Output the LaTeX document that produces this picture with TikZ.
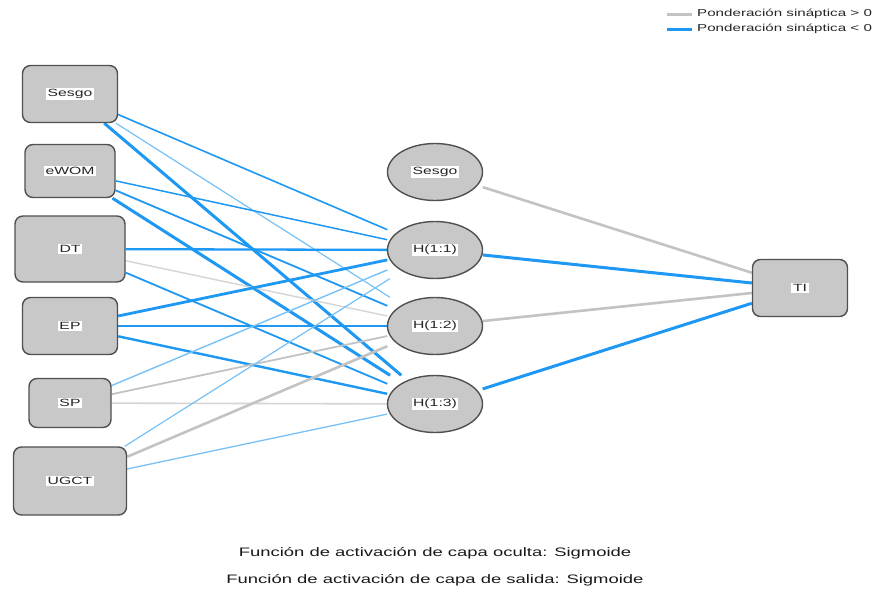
\documentclass[tikz,border=0pt]{standalone}
\usepackage{fontspec}
\setmainfont{Liberation Sans}
\newfontfamily\widefont[FakeStretch=1.5]{Liberation Sans}
\usetikzlibrary{shapes.geometric}
\pgfdeclarelayer{background}
\pgfsetlayers{background,main}

\definecolor{wneg}{RGB}{30,152,242}
\definecolor{wpos}{RGB}{195,195,195}
\definecolor{nodefill}{RGB}{200,200,200}
\definecolor{nodeline}{RGB}{80,80,80}

\tikzset{
  inbox/.style={draw=nodeline, line width=1.4pt, fill=nodefill,
    rounded corners=8pt, inner sep=0pt},
  frame/.style={draw=none, inner sep=0pt, minimum width=95pt, minimum height=57pt},
  neuron/.style={ellipse, draw=nodeline, line width=1.4pt, fill=nodefill,
    inner sep=0pt, minimum width=95pt, minimum height=57pt},
  lab/.style={fill=white, inner sep=1.6pt, text=black!85,
    font=\widefont\fontsize{10.5}{12}\selectfont},
  neg/.style={draw=wneg, line width=#1},
  neglt/.style={draw=wneg!60, line width=#1},
  pos/.style={draw=wpos, line width=#1},
  poslt/.style={draw=wpos!70, line width=#1},
  legtext/.style={anchor=west, inner sep=0pt, text=black!85,
    font=\widefont\fontsize{10.1}{12}\selectfont},
  caption/.style={inner sep=0pt, text=black!90,
    font=\widefont\fontsize{12.3}{14}\selectfont},
}

\begin{document}
\begin{tikzpicture}[x=1pt, y=-1pt]
\useasboundingbox (0,0) rectangle (875,592);

% input layer
\node[inbox, minimum width=95pt, minimum height=57pt, label={[lab]center:Sesgo}] (i0) at (70,94) {};
\node[inbox, minimum width=90pt, minimum height=53pt, label={[lab]center:eWOM}] (i1) at (70,171) {};
\node[inbox, minimum width=110pt, minimum height=66pt, label={[lab]center:DT}] (i2) at (70,249) {};
\node[inbox, minimum width=95pt, minimum height=57pt, label={[lab]center:EP}] (i3) at (70,326) {};
\node[inbox, minimum width=82pt, minimum height=49pt, label={[lab]center:SP}] (i4) at (70,403) {};
\node[inbox, minimum width=113pt, minimum height=68pt, label={[lab]center:UGCT}] (i5) at (70,481) {};

% hidden layer: frames where the weights stop, neurons drawn inside them
\node[frame] (hb) at (435,172) {};
\node[frame] (h1) at (435,250) {};
\node[frame] (h2) at (435,326) {};
\node[frame] (h3) at (435,404) {};
\node[neuron, label={[lab]center:Sesgo}] (eb) at (hb) {};
\node[neuron, label={[lab]center:H(1:1)}] (e1) at (h1) {};
\node[neuron, label={[lab]center:H(1:2)}] (e2) at (h2) {};
\node[neuron, label={[lab]center:H(1:3)}] (e3) at (h3) {};

% output layer
\node[inbox, minimum width=95pt, minimum height=57pt, label={[lab]center:TI}] (o1) at (800,288) {};

\begin{pgfonlayer}{background}
  \fill[white] (0,0) rectangle (875,592);
  % input -> hidden
  \draw[neg=1.6]   (i0) -- (h1);
  \draw[neglt=1.2] (i0) -- (h2);
  \draw[neg=3]     (i0) -- (h3);
  \draw[neg=1.5]   (i1) -- (h1);
  \draw[neg=1.8]   (i1) -- (h2);
  \draw[neg=3]     (i1) -- (h3);
  \draw[neg=2.3]   (i2) -- (h1);
  \draw[poslt=1.4] (i2) -- (h2);
  \draw[neg=1.8]   (i2) -- (h3);
  \draw[neg=2.8]   (i3) -- (h1);
  \draw[neg=2]     (i3) -- (h2);
  \draw[neg=2.4]   (i3) -- (h3);
  \draw[neglt=1.4] (i4) -- (h1);
  \draw[pos=1.8]   (i4) -- (h2);
  \draw[poslt=1.6] (i4) -- (h3);
  \draw[neglt=1.2] (i5) -- (h1);
  \draw[pos=2.6]   (i5) -- (h2);
  \draw[neglt=1.3] (i5) -- (h3);
  % hidden -> output
  \draw[pos=2.6]   (hb) -- (o1);
  \draw[neg=3]     (h1) -- (o1);
  \draw[pos=2.6]   (h2) -- (o1);
  \draw[neg=3]     (h3) -- (o1);
\end{pgfonlayer}

% legend
\coordinate (lp0) at (667,14);
\coordinate (lp1) at (692,14);
\coordinate (ln0) at (667,29);
\coordinate (ln1) at (692,29);
\draw[pos=3] (lp0) -- (lp1);
\draw[neg=3] (ln0) -- (ln1);
\node[legtext] (lpt) at (697,14) {Ponderación sináptica > 0};
\node[legtext] (lnt) at (697,29) {Ponderación sináptica < 0};

% activation functions
\node[caption] (c1) at (435,553) {Función de activación de capa oculta: Sigmoide};
\node[caption] (c2) at (435,580) {Función de activación de capa de salida: Sigmoide};
\end{tikzpicture}
\end{document}
